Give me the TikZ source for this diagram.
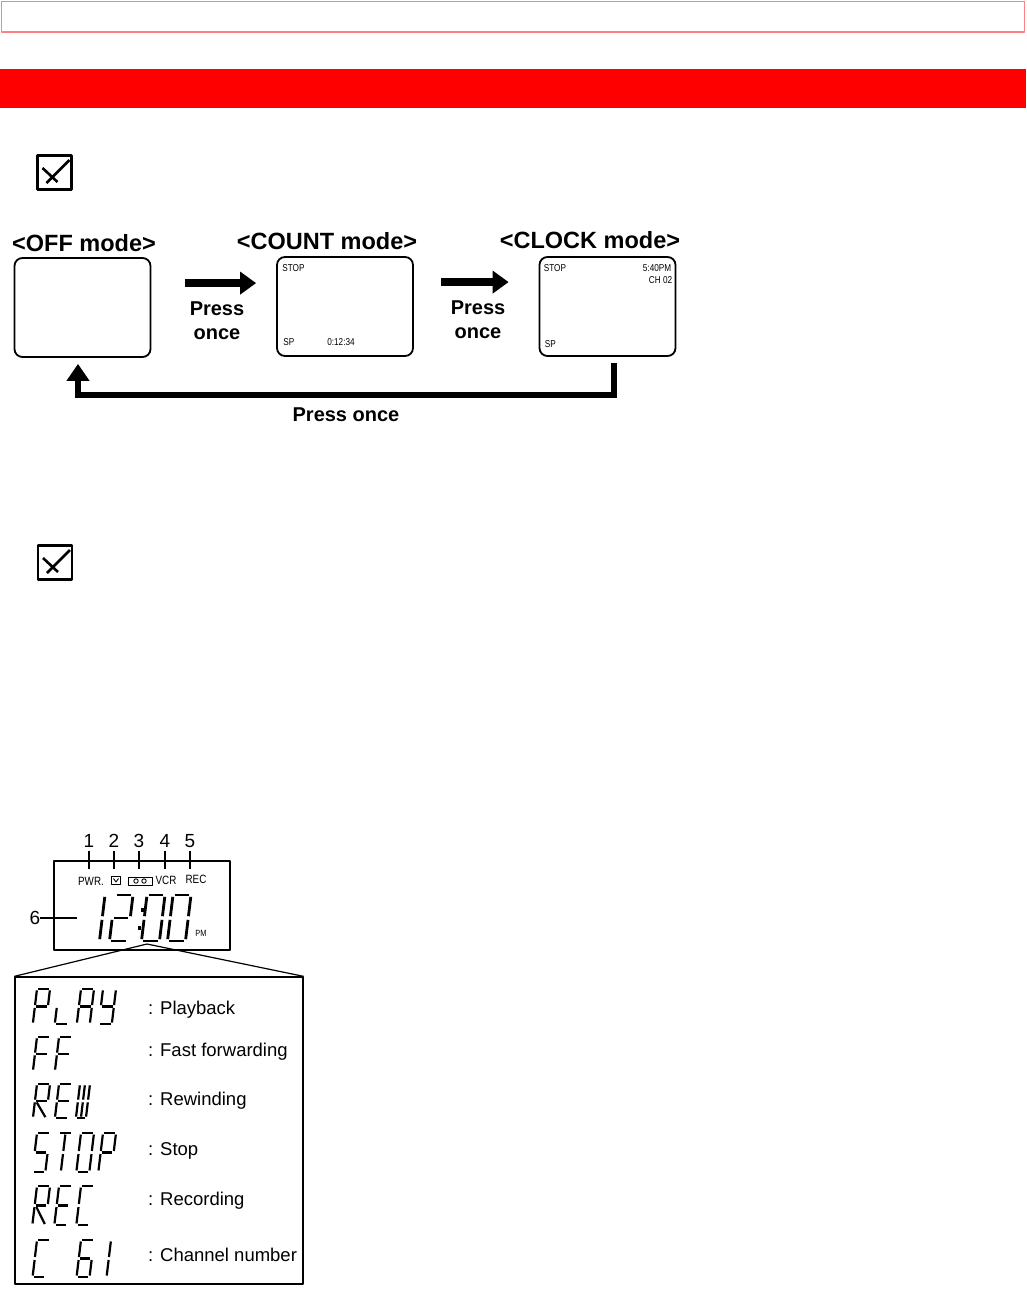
\documentclass[tikz,border=0pt]{standalone}
\usepackage{fontspec}
\setmainfont{Liberation Sans}
\newfontfamily\narrowfont[FakeStretch=0.82]{Liberation Sans}
\usetikzlibrary{arrows.meta,positioning}
\tikzset{
  every picture/.style={line join=round, >=Stealth},
  screen/.style={draw, line width=1.8pt, rounded corners=8pt, minimum width=136pt, minimum height=99pt, inner sep=0pt},
  modelabel/.style={font=\fontsize{23.5}{26}\selectfont\bfseries, inner sep=0pt},
  presslabel/.style={font=\fontsize{20}{24}\selectfont\bfseries, align=center, inner sep=0pt},
  screentext/.style={font=\narrowfont\fontsize{10}{11}\selectfont, inner sep=0pt},
  fatarrow/.style={line width=8pt, line join=miter, -{Triangle[length=16pt,width=22pt]}},
  backarrow/.style={line width=6pt, line join=miter, -{Triangle[length=17pt,width=22pt]}},
  checkbox/.style={draw, line width=2.5pt, minimum size=34pt, inner sep=0pt},
  lcdseg/.style={line width=2.2pt, line cap=butt},
  lcdtext/.style={font=\narrowfont\fontsize{12}{13}\selectfont, inner sep=0pt},
  numlabel/.style={font=\fontsize{19}{20}\selectfont, inner sep=0pt},
  statelabel/.style={font=\fontsize{18.5}{20}\selectfont, anchor=west, inner sep=0pt},
}
% segments of one lcd character, in a 10 x 20 box
\def\lcdsega{(1,0)--(9,0)}
\def\lcdsegb{(10,0.8)--(10,9.2)}
\def\lcdsegc{(10,10.8)--(10,19.2)}
\def\lcdsegd{(1,20)--(9,20)}
\def\lcdsege{(0,10.8)--(0,19.2)}
\def\lcdsegf{(0,0.8)--(0,9.2)}
\def\lcdsegg{(1,10)--(9,10)}
\def\lcdsegh{(5,0.8)--(5,9.2)}
\def\lcdsegi{(5,10.8)--(5,19.2)}
\def\lcdsegk{(1.5,10.8)--(9.5,19.5)}
\newcommand{\lcdglyph}[4]{%
  \begin{scope}[shift={#1}, xslant=0.12, xscale=#2, yscale=#3]
    \foreach \s in {#4}{%
      \expandafter\let\expandafter\lcdcur\csname lcdseg\s\endcsname
      \draw[lcdseg] \lcdcur;
    }
  \end{scope}}

\begin{document}
\begin{tikzpicture}[x=1pt,y=-1pt]
\fill[white] (0,0) rectangle (1026,1290);
\useasboundingbox (0,0) rectangle (1026,1290);

% header
\draw[red!50, line width=1.5pt] (1.5,1.5) rectangle (1024.5,32);
\fill[red] (0,69) rectangle (1026,108);

% check boxes
\node[checkbox] (chk1) at (54.5,172.5) {};
\node[checkbox] (chk2) at (55,562.5) {};
\foreach \c in {chk1,chk2}{
  \draw[line width=2.6pt] ([shift={(-12,-4.5)}]\c.center) -- ([shift={(3,9.5)}]\c.center);
  \draw[line width=2.6pt] ([shift={(15,-12.5)}]\c.center) -- ([shift={(-8,10.5)}]\c.center);
}

% display modes
\node[screen] (off) at (82.5,307.5) {};
\node[screen] (count) at (345,306.5) {};
\node[screen] (clock) at (607.5,306.5) {};
\node[modelabel] (offlbl) at (84,243) {<OFF mode>};
\node[modelabel] (countlbl) at (327,241) {<COUNT mode>};
\node[modelabel] (clocklbl) at (590,240) {<CLOCK mode>};

\node[screentext, anchor=north west] (cstop) at ([shift={(6,8)}]count.north west) {STOP};
\node[screentext, anchor=south west] (csp) at ([shift={(7,-11)}]count.south west) {SP};
\node[screentext, anchor=south west] (ctime) at ([shift={(51,-11)}]count.south west) {0:12:34};
\node[screentext, anchor=north west] (kstop) at ([shift={(5,8)}]clock.north west) {STOP};
\node[screentext, anchor=north east] (ktime) at ([shift={(-5,8)}]clock.north east) {5:40PM};
\node[screentext, anchor=north east] (kch) at ([shift={(-4,20)}]clock.north east) {CH 02};
\node[screentext, anchor=south west] (ksp) at ([shift={(6,-9)}]clock.south west) {SP};

\coordinate (a1) at ([shift={(34,26)}]off.north east);
\coordinate (a2) at ([shift={(27,26)}]count.north east);
\draw[fatarrow] (a1) -- ([xshift=-20pt]a1 -| count.west);
\draw[fatarrow] (a2) -- ([xshift=-30pt]a2 -| clock.west);
\node[presslabel] (press1) at (217,321) {Press\\once};
\node[presslabel] (press2) at (478,320) {Press\\once};

\draw[backarrow] ([shift={(6.5,6)}]clock.south) -- ++(0,32) -| ([shift={(-4.5,6)}]off.south);
\node[presslabel] (press3) at (346,415) {Press once};

% lcd panel
\node[draw, line width=1.2pt, minimum width=176pt, minimum height=89pt, inner sep=0pt] (lcd) at (142,905.5) {};
\foreach \n/\x in {1/89,2/114,3/139,4/165,5/190}{
  \node[numlabel] (n\n) at (\x,841) {\n};
  \draw[line width=1.2pt] ([yshift=-3pt]n\n.south) -- ++(0,18);
}
\node[lcdtext] (pwr) at (91,881) {PWR.};
\node[draw, line width=1pt, minimum width=9pt, minimum height=8pt, inner sep=0pt] (timer) at (116,880.5) {};
\draw[line width=0.9pt] ([shift={(-2.5,-2)}]timer.center) -- ([shift={(0,1.5)}]timer.center) -- ([shift={(2.5,-2)}]timer.center);
\node[draw, line width=1pt, minimum width=24pt, minimum height=8pt, inner sep=0pt] (tape) at (140,881) {};
\draw[line width=0.9pt] ([xshift=-4pt]tape.center) circle (2.2) ([xshift=4pt]tape.center) circle (2.2);
\node[lcdtext] (vcr) at (166,880.5) {VCR};
\node[lcdtext] (rec) at (196,879.5) {REC};
\node[numlabel] (six) at (35,918) {6};
\draw[line width=1.2pt] (six.east) -- ++(37,0);

\begin{scope}[lcdseg/.append style={line width=2.8pt}]
\lcdglyph{(87,895)}{1.8}{2.3}{b,c}
\lcdglyph{(115,895)}{1.8}{2.3}{a,b,g,e,d}
\lcdglyph{(147,895)}{1.8}{2.3}{a,b,c,d,e,f}
\lcdglyph{(173,895)}{1.8}{2.3}{a,b,c,d,e,f}
\end{scope}
\fill (140.5,908) rectangle ++(3.5,3.5);
\fill (137.5,926) rectangle ++(3.5,3.5);
\node[lcdtext, font=\narrowfont\fontsize{9}{10}\selectfont] (pm) at (201,933) {PM};

% operation indicators
\coordinate (apex) at (147,944);
\node[draw, line width=1.3pt, minimum width=288pt, minimum height=307pt, inner sep=0pt] (modes) at (159,1130.5) {};
\draw[line width=1.2pt] (modes.north west) -- (apex) -- (modes.north east);

\lcdglyph{(37,989)}{1.3}{1.75}{a,b,f,g,e}
\lcdglyph{(59,989)}{1.3}{1.75}{e,d}
\lcdglyph{(81,989)}{1.3}{1.75}{a,b,c,e,f,g}
\lcdglyph{(103,989)}{1.3}{1.75}{b,c,d,f,g}
\node[statelabel] (play) at (148,1010) {: Playback};

\lcdglyph{(37,1037)}{1.3}{1.7}{a,f,g,e}
\lcdglyph{(59,1037)}{1.3}{1.7}{a,f,g,e}
\node[statelabel] (ff) at (148,1052) {: Fast forwarding};

\lcdglyph{(37,1084)}{1.3}{1.7}{a,b,f,g,e,k}
\lcdglyph{(59,1084)}{1.3}{1.7}{a,d,e,f,g}
\lcdglyph{(80,1084)}{1.0}{1.7}{b,c,d,e,f,h,i}
\node[statelabel] (rew) at (148,1101) {: Rewinding};

\lcdglyph{(37,1133)}{1.3}{1.95}{a,f,g,c,d}
\lcdglyph{(59,1133)}{1.3}{1.95}{a,h,i}
\lcdglyph{(81,1133)}{1.3}{1.95}{a,b,c,d,e,f}
\lcdglyph{(103,1133)}{1.3}{1.95}{a,b,f,g,e}
\node[statelabel] (stop) at (148,1151) {: Stop};

\lcdglyph{(37,1186)}{1.3}{1.95}{a,b,f,g,e,k}
\lcdglyph{(59,1186)}{1.3}{1.95}{a,d,e,f,g}
\lcdglyph{(81,1186)}{1.3}{1.95}{a,d,e,f}
\node[statelabel] (recording) at (148,1201) {: Recording};

\lcdglyph{(37,1240)}{1.3}{1.85}{a,d,e,f}
\lcdglyph{(81,1240)}{1.3}{1.85}{a,c,d,e,f,g}
\lcdglyph{(98,1240)}{1.3}{1.85}{b,c}
\node[statelabel] (channel) at (148,1255) {: Channel number};
\end{tikzpicture}
\end{document}
